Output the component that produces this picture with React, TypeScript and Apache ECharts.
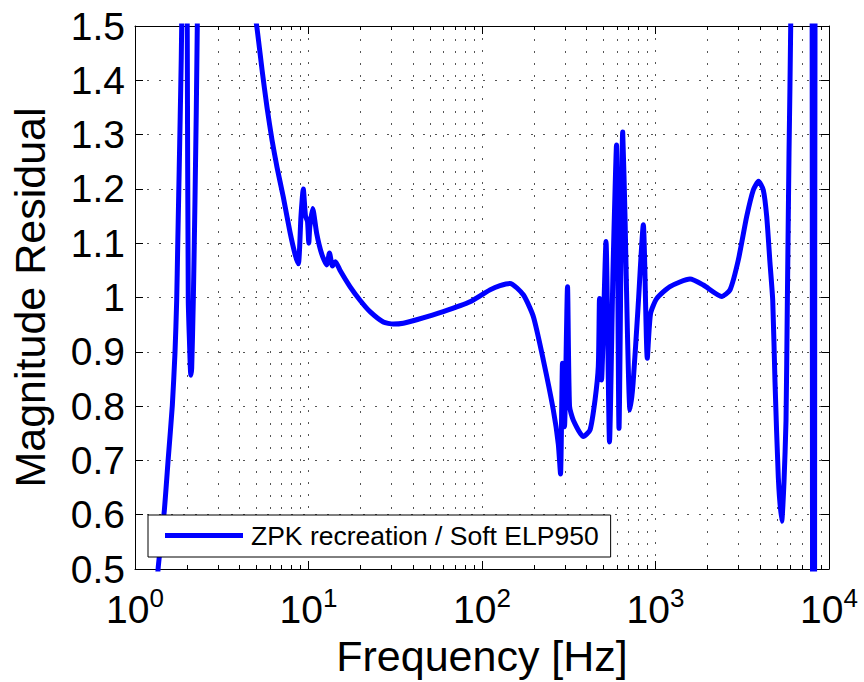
import React, { useEffect, useRef } from 'react';
import * as echarts from 'echarts';

// Frequency (Hz) of each traced point of the residual curve
const freqHz = [
  1.28, 1.362, 1.475, 1.555, 1.641, 1.7, 1.739, 1.762, 1.786, 1.81, 1.834, 1.858,
  1.93, 2.0, 2.028, 2.06, 2.097, 2.122, 2.168, 2.217, 2.286, 2.45, 3.2, 4.0, 4.6,
  5.03, 5.395, 5.766, 6.163, 6.584, 7.157, 7.826, 8.36, 8.74, 9.05, 9.33, 9.61,
  9.87, 10.04, 10.17, 10.57, 11.15, 11.92, 12.73, 13.21, 13.75, 14.3, 15.19, 17.34,
  19.81, 22.62, 26.98, 30.8, 35.2, 42.0, 59.8, 85.3, 111.2, 127, 145, 173, 197.6,
  225.6, 257.6, 275.3, 283.5, 291.1, 298.9, 311.1, 319.5, 336, 383.6, 419.4, 448.1,
  468.1, 475.6, 488.4, 518.5, 543.1, 568.9, 596.0, 616.1, 647.1, 667.1, 689.6, 712.8,
  742, 792.7, 850.7, 896.9, 935.8, 1016, 1212, 1581, 1886, 2408, 2688, 3001, 3354,
  3662, 3924, 4181, 4375, 4571, 4738, 4885, 5104, 5339, 5503, 5652, 5750, 5882, 6016,
  6400, 7500, 7900, 8120, 8220, 8420, 10000,
];

// Magnitude residual at each frequency above
const residual = [
  0.38, 0.504, 0.607, 0.704, 0.801, 0.898, 0.995, 1.092, 1.188, 1.285, 1.382, 1.498,
  4.0, 1.5, 0.995, 0.92, 0.857, 0.87, 0.995, 1.18, 1.5, 3.5, 3.2, 1.95, 1.58,
  1.5, 1.42, 1.35, 1.29, 1.24, 1.185, 1.12, 1.08, 1.062, 1.15, 1.2, 1.15,
  1.14, 1.1, 1.13, 1.164, 1.118, 1.08, 1.06, 1.082, 1.058, 1.066, 1.05, 1.02,
  0.995, 0.974, 0.955, 0.951, 0.9525, 0.959, 0.974, 0.992, 1.014, 1.022, 1.026, 1.005, 0.965,
  0.885, 0.793, 0.73, 0.675, 0.879, 0.762, 1.02, 0.8, 0.774, 0.744, 0.756, 0.811,
  0.873, 0.998, 0.848, 1.103, 0.734, 1.05, 1.281, 0.759, 1.305, 1.15, 0.93, 0.793,
  0.84, 0.98, 1.134, 0.888, 0.97, 0.998, 1.02, 1.034, 1.023, 1.002, 1.014, 1.069, 1.149,
  1.198, 1.214, 1.198, 1.149, 1.063, 0.995, 0.844, 0.668, 0.588, 0.66, 0.773, 0.984, 1.266, 1.5,
  3.0, 3.5, 3.0, -1.0, -1.0, 3.0, 3.5,
];

const xMin = 1;
const xMax = 10000;
const xDecadeExponents = [0, 1, 2, 3, 4];
const minorMultipliers = [2, 3, 4, 5, 6, 7, 8, 9];
const yMin = 0.5;
const yMax = 1.5;
const yStep = 0.1;

const seriesName = 'ZPK recreation / Soft ELP950';
const xName = 'Frequency [Hz]';
const yName = 'Magnitude Residual';

export default function App() {
  const ref = useRef<HTMLDivElement>(null);

  useEffect(() => {
    if (!ref.current) return;
    const chart = echarts.init(ref.current, null, { renderer: 'svg' });
    const font = "'Liberation Sans', Arial, Helvetica, sans-serif";
    const gridColor = '#555';
    const dotted = [2, 10];
    const plotHeightPx = 543;
    const minorTickData = (4 / plotHeightPx) * (yMax - yMin);

    const minorValues: number[] = [];
    xDecadeExponents.slice(0, -1).forEach((e) => {
      minorMultipliers.forEach((m) => minorValues.push(m * Math.pow(10, e)));
    });

    const markData: any[] = [];
    minorValues.forEach((v) => {
      markData.push({ xAxis: v, lineStyle: { color: gridColor, width: 1, type: dotted } });
    });
    minorValues.forEach((v) => {
      markData.push([
        { coord: [v, yMin], lineStyle: { color: '#000', width: 1, type: 'solid' } },
        { coord: [v, yMin + minorTickData] },
      ]);
      markData.push([
        { coord: [v, yMax], lineStyle: { color: '#000', width: 1, type: 'solid' } },
        { coord: [v, yMax - minorTickData] },
      ]);
    });

    const data = freqHz.map((f, i) => [f, residual[i]]);

    const axisLineStyle = { show: true, onZero: false, lineStyle: { color: '#000', width: 1 } };
    const tickStyle = { show: true, inside: true, length: 8, lineStyle: { color: '#000', width: 1 } };

    chart.setOption({
      animation: false,
      backgroundColor: '#fff',
      textStyle: { fontFamily: font },
      grid: {
        left: 135,
        right: 35,
        top: 26,
        bottom: 113,
        containLabel: false,
        outerBoundsMode: 'none',
      },
      legend: {
        left: 148,
        top: 515,
        orient: 'horizontal',
        backgroundColor: '#fff',
        borderColor: '#000',
        borderWidth: 1,
        borderRadius: 0,
        padding: [7, 12, 8, 17],
        itemWidth: 78,
        itemHeight: 5,
        icon: 'rect',
        selectedMode: false,
        textStyle: {
          fontSize: 26.5,
          color: '#000',
          fontFamily: font,
          lineHeight: 26,
          padding: [0, 0, 0, 3],
        },
        data: [seriesName],
      },
      xAxis: [
        {
          type: 'log',
          logBase: 10,
          min: xMin,
          max: xMax,
          position: 'bottom',
          axisLine: axisLineStyle,
          axisTick: tickStyle,
          splitLine: { show: true, lineStyle: { color: gridColor, width: 1, type: dotted } },
          axisLabel: {
            margin: 16,
            formatter: (v: number) => `{b|10}{s|${Math.round(Math.log10(v))}}`,
            rich: {
              b: { fontSize: 39, fontFamily: font, color: '#000', lineHeight: 44, verticalAlign: 'bottom' },
              s: { fontSize: 26, fontFamily: font, color: '#000', lineHeight: 26, verticalAlign: 'top', padding: [0, 0, 38, 0] },
            },
          },
          name: xName,
          nameLocation: 'middle',
          nameGap: 65,
          nameMoveOverlap: false,
          nameTextStyle: { fontSize: 43, color: '#000', fontFamily: font },
        },
        {
          type: 'log',
          logBase: 10,
          min: xMin,
          max: xMax,
          position: 'top',
          axisLine: axisLineStyle,
          axisTick: tickStyle,
          splitLine: { show: false },
          axisLabel: { show: false },
        },
      ],
      yAxis: [
        {
          type: 'value',
          min: yMin,
          max: yMax,
          interval: yStep,
          position: 'left',
          axisLine: axisLineStyle,
          axisTick: tickStyle,
          splitLine: { show: true, lineStyle: { color: gridColor, width: 1, type: dotted } },
          axisLabel: {
            margin: 10,
            fontSize: 39,
            color: '#000',
            fontFamily: font,
            formatter: (v: number) => String(Math.round(v * 10) / 10),
          },
          name: yName,
          nameLocation: 'middle',
          nameGap: 84,
          nameMoveOverlap: false,
          nameTextStyle: { fontSize: 43, color: '#000', fontFamily: font },
        },
        {
          type: 'value',
          min: yMin,
          max: yMax,
          interval: yStep,
          position: 'right',
          axisLine: axisLineStyle,
          axisTick: tickStyle,
          splitLine: { show: false },
          axisLabel: { show: false },
        },
      ],
      series: [
        {
          name: seriesName,
          type: 'line',
          xAxisIndex: 0,
          yAxisIndex: 0,
          data,
          symbol: 'none',
          showSymbol: false,
          smooth: 0.2,
          clip: true,
          z: 3,
          lineStyle: { color: '#0000ff', width: 5, cap: 'round', join: 'round' },
          itemStyle: { color: '#0000ff' },
          markLine: {
            silent: true,
            z: 1,
            symbol: ['none', 'none'],
            label: { show: false },
            emphasis: { disabled: true },
            animation: false,
            data: markData,
          },
        },
      ],
    });

    return () => chart.dispose();
  }, []);

  return (
    <div
      ref={ref}
      style={{ position: 'fixed', left: 0, top: 0, width: 864, height: 682, background: '#fff' }}
    />
  );
}
